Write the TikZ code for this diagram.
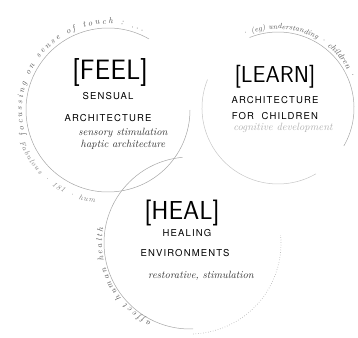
\documentclass[tikz,border=0pt]{standalone}
\usepackage{fontspec}
\newfontfamily\capsfont[LetterSpace=12]{TeX Gyre Heros}
\usetikzlibrary{decorations.text}
\newcommand\handfont{\itshape\fontsize{10.5}{12}\selectfont}
\newcommand\arcfont{\itshape\fontsize{8.5}{10}\selectfont}
\newcommand\smallarcfont{\itshape\fontsize{7.5}{9}\selectfont}

\begin{document}
\begin{tikzpicture}[x=1pt, y=1pt,
    ring/.style={gray!70, line width=0.5pt},
    title/.style={anchor=base, inner sep=0pt, font=\sffamily\fontsize{28}{28}\selectfont},
    caps/.style={anchor=base, inner sep=0pt, font=\capsfont\fontsize{9.5}{11}\selectfont},
    hand/.style={anchor=base, inner sep=0pt, font=\handfont, text=black!80},
    arctext/.style={decorate, decoration={text along path, text align={fit to path}, text color=black!65}}]
    \useasboundingbox (0,0) rectangle (358,337);
    \coordinate (feel) at (108,227);
    \coordinate (learn) at (278,229);
    \coordinate (heal) at (190,94);

    % the three circles
    \draw[ring] (feel) ++(60:82) arc[start angle=60, end angle=360, radius=82];
    \draw[ring] (learn) ++(-30:76) arc[start angle=-30, end angle=112, radius=76];
    \draw[ring, gray!45] (learn) ++(158:76) arc[start angle=158, end angle=300, radius=76];
    \draw[ring] (heal) ++(95:86) arc[start angle=95, end angle=272, radius=86];
    \draw[ring, dotted, line width=0.7pt] (heal) ++(272:91) arc[start angle=272, end angle=365, radius=91];

    % notes written round the circles
    \path[arctext, decoration={text={|\arcfont|focussing on sense of touch : ...}}]
        (feel) ++(197:86) arc[start angle=197, end angle=66, radius=86];
    \path[arctext, decoration={text={|\smallarcfont|Fabulous · 181 · hum}, text color=black!50}]
        (feel) ++(200:94) arc[start angle=200, end angle=262, radius=94];
    \path[arctext, decoration={text={|\smallarcfont|· (eg) understanding · |\arcfont|children ·}}]
        (learn) ++(116:79) arc[start angle=116, end angle=22, radius=79];
    \path[arctext, decoration={text={|\arcfont|affect human health}}]
        (heal) ++(244:88) arc[start angle=244, end angle=170, radius=88];

    % feel
    \node[title] (feeltitle) at (110,257) {[FEEL]};
    \node[caps] (feelsub) at (108,237) {SENSUAL};
    \node[caps] (feelarch) at (108,215) {ARCHITECTURE};
    \node[hand] (feelnote) at (123,201) {sensory stimulation};
    \node[hand] (feelhaptic) at (123,189) {haptic architecture};

    % learn
    \node[title, font=\sffamily\fontsize{23}{23}\selectfont] (learntitle) at (275,254) {[LEARN]};
    \node[caps] (learnarch) at (275,233) {ARCHITECTURE};
    \node[caps] (learnkids) at (275,217) {FOR\ \ CHILDREN};
    \node[hand, text=gray!60] (learnnote) at (283,206) {cognitive development};

    % heal
    \node[title, font=\sffamily\fontsize{26}{26}\selectfont] (healtitle) at (182,117) {[HEAL]};
    \node[caps] (healsub) at (187,100) {HEALING};
    \node[caps] (healenv) at (185,80) {ENVIRONMENTS};
    \node[hand] (healnote) at (201,59) {restorative, stimulation};
\end{tikzpicture}
\end{document}
